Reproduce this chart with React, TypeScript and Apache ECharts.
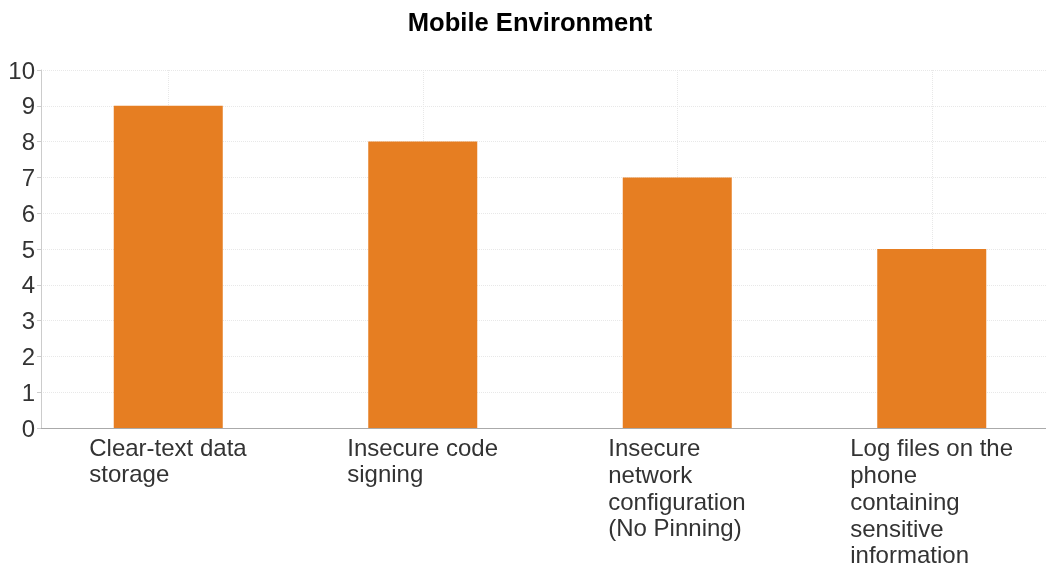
import React, { useEffect, useRef } from "react";
import * as echarts from "echarts";

const titleText = "Mobile Environment";
const categories = [
  "Clear-text data\nstorage",
  "Insecure code\nsigning",
  "Insecure\nnetwork\nconfiguration\n(No Pinning)",
  "Log files on the\nphone\ncontaining\nsensitive\ninformation",
];
const values = [9, 8, 7, 5];
const yMin = 0;
const yMax = 10;
const yInterval = 1;

const FONT = "'Liberation Sans', Arial, sans-serif";

export default function App() {
  const ref = useRef<HTMLDivElement>(null);
  useEffect(() => {
    if (!ref.current) return;
    const chart = echarts.init(ref.current, undefined, { renderer: "svg" });
    const ctx = document.createElement("canvas").getContext("2d")!;
    ctx.font = `24px ${FONT}`;
    const rich: Record<string, any> = {};
    categories.forEach((c, i) => {
      const w = Math.max(...c.split("\n").map((l) => ctx.measureText(l).width));
      const base = {
        width: Math.ceil(w),
        align: "left",
        fontSize: 24,
        color: "#333",
        fontFamily: FONT,
      };
      rich["w" + i] = { ...base, lineHeight: 27 };
      rich["l" + i] = { ...base, lineHeight: 24 };
    });
    chart.setOption({
      animation: false,
      title: {
        text: titleText,
        left: 530,
        textAlign: "center",
        top: 9,
        padding: 0,
        textStyle: { fontSize: 25.6, fontWeight: "bold", color: "#000", fontFamily: FONT },
      },
      grid: {
        left: 41,
        right: -13,
        top: 70,
        bottom: 139,
        containLabel: false,
        outerBoundsMode: "none",
      },
      xAxis: {
        type: "category",
        data: categories,
        axisLine: { lineStyle: { color: "#aaa" } },
        axisTick: { alignWithLabel: true, length: 5, lineStyle: { color: "#ccc" } },
        splitLine: { show: true, alignWithLabel: true, lineStyle: { color: "#e8e8e8", type: "dotted" } },
        axisLabel: {
          interval: 0,
          margin: 6,
          align: "center",
          verticalAlign: "top",
          fontSize: 24,
          lineHeight: 27,
          color: "#333",
          fontFamily: FONT,
          rich,
          formatter: (v: string, i: number) => {
            const lines = v.split("\n");
            return lines
              .map((l, k) => (k === lines.length - 1 ? `{l${i}|${l}}` : `{w${i}|${l}}`))
              .join("\n");
          },
        },
      },
      yAxis: {
        type: "value",
        min: yMin,
        max: yMax,
        interval: yInterval,
        axisLine: { show: true, lineStyle: { color: "#ccc" } },
        axisTick: { show: true, length: 4, lineStyle: { color: "#ccc" } },
        splitLine: { show: true, lineStyle: { color: "#e8e8e8", type: "dotted" } },
        axisLabel: { margin: 6, fontSize: 24, color: "#333", fontFamily: FONT },
      },
      series: [
        {
          type: "bar",
          data: values,
          barWidth: 109,
          itemStyle: { color: "#e67e22" },
        },
      ],
    });
    return () => chart.dispose();
  }, []);
  return (
    <div
      ref={ref}
      style={{ position: "fixed", left: 0, top: 0, width: 1046, height: 567 }}
    />
  );
}
